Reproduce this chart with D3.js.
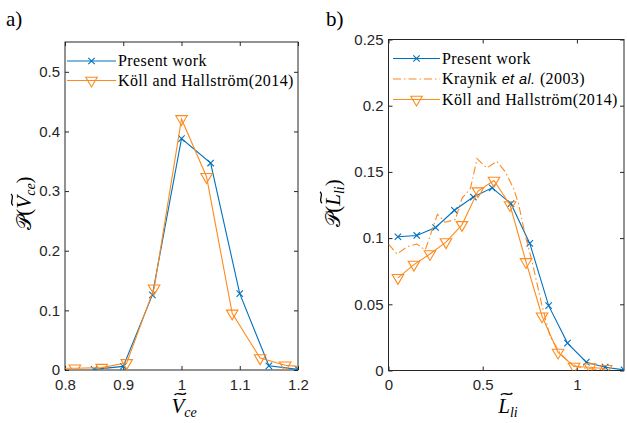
<!DOCTYPE html>
<html><head><meta charset="utf-8">
<script src="https://cdn.jsdelivr.net/npm/d3@7"></script>
<style>body{margin:0;background:#fff}</style>
</head><body>
<svg id="c" width="627" height="423"></svg>
<script>
// ---- data (panel a) ----
const vceX = [0.85, 0.9, 0.95, 1.0, 1.05, 1.1, 1.15, 1.2];
const vcePresent = [0.001, 0.006, 0.126, 0.388, 0.347, 0.128, 0.007, 0.001];
const vceKollX = [0.775, 0.817, 0.863, 0.906, 0.953, 1.0, 1.043, 1.087, 1.135, 1.178, 1.225];
const vceKoll = [0.003, 0.003, 0.004, 0.012, 0.137, 0.421, 0.324, 0.095, 0.020, 0.008, 0.004];
const aXTicks = [0.8, 0.9, 1.0, 1.1, 1.2];
const aXTickLabels = ["0.8", "0.9", "1", "1.1", "1.2"];
const aYTicks = [0, 0.1, 0.2, 0.3, 0.4, 0.5];
const aYTickLabels = ["0", "0.1", "0.2", "0.3", "0.4", "0.5"];
// ---- data (panel b) ----
const liX = [0.05, 0.15, 0.25, 0.35, 0.45, 0.55, 0.65, 0.75, 0.85, 0.95, 1.05, 1.15, 1.25];
const liPresent = [0.101, 0.102, 0.108, 0.121, 0.131, 0.138, 0.126, 0.096, 0.049, 0.0207, 0.0063, 0.0025, 0.0005];
const liKollX = [0.05, 0.135, 0.22, 0.305, 0.39, 0.475, 0.56, 0.645, 0.73, 0.815, 0.9, 0.985, 1.07, 1.155];
const liKoll = [0.070, 0.080, 0.088, 0.097, 0.110, 0.1355, 0.1435, 0.125, 0.082, 0.041, 0.0136, 0.003, 0.0025, 0.0013];
const liKrX = [0, 0.045, 0.1, 0.15, 0.195, 0.26, 0.3, 0.355, 0.39, 0.435, 0.47, 0.522, 0.575, 0.62, 0.664, 0.69, 0.726, 0.76, 0.78, 0.814, 0.858, 0.911, 0.955, 1.0, 1.05, 1.1, 1.15];
const liKr = [0.0955, 0.088, 0.0935, 0.0955, 0.091, 0.118, 0.112, 0.114, 0.130, 0.1375, 0.160, 0.153, 0.158, 0.150, 0.1375, 0.126, 0.102, 0.0835, 0.071, 0.0495, 0.0256, 0.013, 0.0068, 0.003, 0.0015, 0.001, 0.0005];
const bXTicks = [0, 0.5, 1];
const bXTickLabels = ["0", "0.5", "1"];
const bYTicks = [0, 0.05, 0.1, 0.15, 0.2, 0.25];
const bYTickLabels = ["0", "0.05", "0.1", "0.15", "0.2", "0.25"];

const BLUE = "#0072BD", ORANGE = "#FF8A1C", AX = "#262626";
const SANS = "Liberation Sans, Arial, sans-serif";
const SERIF = "Liberation Serif, DejaVu Serif, serif";

const svg = d3.select("#c");

function triPath(cx, cy, w, h) {
  return `M${cx - w/2},${cy - h/3}L${cx + w/2},${cy - h/3}L${cx},${cy + 2*h/3}Z`;
}
function crossPath(cx, cy, s) {
  return `M${cx-s},${cy-s}L${cx+s},${cy+s}M${cx-s},${cy+s}L${cx+s},${cy-s}`;
}
function tildePath(cx, cy, w) {
  const x0 = cx - w/2;
  return `M${x0},${cy + 1}C${x0 + w*0.3},${cy - 3.2} ${x0 + w*0.7},${cy + 3.2} ${x0 + w},${cy - 1}`;
}

function mathLabel(parent, x, y, rot, pieces) {
  const g = parent.append("g").attr("transform", `translate(${x},${y}) rotate(${rot})`);
  let cx = 0;
  const items = [];
  pieces.forEach(p => {
    const t = g.append("text").attr("x", cx).attr("y", p.dy || 0)
      .attr("font-family", p.font || SERIF).attr("font-size", p.size)
      .attr("font-style", p.italic ? "italic" : "normal").attr("fill", "#000").text(p.t);
    const w = t.node().getComputedTextLength();
    items.push({t, x: cx, w, p});
    cx += w + (p.gap || 0);
  });
  const total = cx;
  items.forEach(it => {
    it.t.attr("x", it.x - total/2);
    if (it.p.tilde) {
      g.append("path").attr("d", tildePath(it.x - total/2 + it.w/2 + 2.5, -19, 11.5))
        .attr("fill", "none").attr("stroke", "#000").attr("stroke-width", 1.3);
    }
  });
}

function panel(o) {
  const x = d3.scaleLinear().domain(o.xd).range([o.l, o.r]);
  const y = d3.scaleLinear().domain(o.yd).range([o.b, o.t]);
  const g = svg.append("g");
  const cid = "clip" + o.id;
  svg.append("defs").append("clipPath").attr("id", cid)
    .append("rect").attr("x", o.l).attr("y", o.t).attr("width", o.r - o.l).attr("height", o.b - o.t);

  const ax = (gen, tr, labels, pad) => {
    const a = g.append("g").attr("transform", tr)
      .call(gen.tickSizeInner(-4).tickSizeOuter(0).tickPadding(pad)
        .tickFormat(labels ? ((d, i) => labels[i]) : () => ""));
    a.select(".domain").remove();
    a.selectAll("line").attr("stroke", AX);
    a.selectAll("text").attr("font-family", SANS).attr("font-size", 15).attr("fill", AX);
    return a;
  };
  ax(d3.axisBottom(x).tickValues(o.xt), `translate(0,${o.b})`, o.xtl, 9);
  ax(d3.axisTop(x).tickValues(o.xt), `translate(0,${o.t})`, null, 0);
  ax(d3.axisLeft(y).tickValues(o.yt), `translate(${o.l},0)`, o.ytl, 5);
  ax(d3.axisRight(y).tickValues(o.yt), `translate(${o.r},0)`, null, 0);
  g.append("rect").attr("x", o.l).attr("y", o.t).attr("width", o.r - o.l).attr("height", o.b - o.t)
    .attr("fill", "none").attr("stroke", AX).attr("stroke-width", 1);

  const data = g.append("g").attr("clip-path", `url(#${cid})`);
  o.series.forEach(s => {
    const pts = s.x.map((v, i) => [x(v), y(s.y[i])]);
    data.append("path").attr("d", d3.line()(pts)).attr("fill", "none")
      .attr("stroke", s.color).attr("stroke-width", 1.1)
      .attr("stroke-dasharray", s.dash || null);
    if (s.marker === "x") {
      pts.forEach(p => data.append("path").attr("d", crossPath(p[0], p[1], 3.2))
        .attr("stroke", s.color).attr("stroke-width", 1.1).attr("fill", "none"));
    } else if (s.marker === "v") {
      pts.forEach(p => data.append("path").attr("d", triPath(p[0], p[1], 11.5, 9.8))
        .attr("stroke", s.color).attr("stroke-width", 1.1).attr("fill", "none"));
    }
  });

  o.legend.forEach((e, i) => {
    const ly = o.legY[i];
    const s = e.s;
    g.append("line").attr("x1", o.legX[0]).attr("x2", o.legX[1]).attr("y1", ly).attr("y2", ly)
      .attr("stroke", s.color).attr("stroke-width", 1.1).attr("stroke-dasharray", s.dash || null);
    const mx = (o.legX[0] + o.legX[1]) / 2;
    if (s.marker === "x") g.append("path").attr("d", crossPath(mx, ly, 3.2)).attr("stroke", s.color).attr("stroke-width", 1.1);
    if (s.marker === "v") g.append("path").attr("d", triPath(mx, ly, 11.5, 9.8)).attr("stroke", s.color).attr("stroke-width", 1.1).attr("fill", "none");
    const t = g.append("text").attr("x", o.legX[1] + 2).attr("y", ly + 5)
      .attr("font-family", SERIF).attr("font-size", 16).attr("letter-spacing", 0.4).attr("fill", "#000");
    e.parts.forEach(p => t.append("tspan").text(p.t)
      .attr("font-style", p.it ? "italic" : null).attr("font-family", p.sans ? SANS : null)
      .attr("font-size", p.sans ? 14.5 : null));
  });
}

const sA1 = {x: vceX, y: vcePresent, color: BLUE, marker: "x"};
const sA2 = {x: vceKollX, y: vceKoll, color: ORANGE, marker: "v"};
panel({id: "a", xd: [0.8, 1.2], yd: [0, 0.55], l: 65, r: 298, t: 42, b: 370,
  xt: aXTicks, xtl: aXTickLabels, yt: aYTicks, ytl: aYTickLabels,
  series: [sA1, sA2],
  legX: [67, 116], legY: [61, 80.5],
  legend: [{s: sA1, parts: [{t: "Present work"}]}, {s: sA2, parts: [{t: "Köll and Hallström(2014)"}]}]});

const sB1 = {x: liX, y: liPresent, color: BLUE, marker: "x"};
const sB2 = {x: liKrX, y: liKr, color: ORANGE, dash: "8,3,1.5,3"};
const sB3 = {x: liKollX, y: liKoll, color: ORANGE, marker: "v"};
panel({id: "b", xd: [0, 1.25], yd: [0, 0.25], l: 388.5, r: 624, t: 39.5, b: 370.5,
  xt: bXTicks, xtl: bXTickLabels, yt: bYTicks, ytl: bYTickLabels,
  series: [sB1, sB2, sB3],
  legX: [393, 440], legY: [58.5, 79, 99.5],
  legend: [{s: sB1, parts: [{t: "Present work"}]},
           {s: sB2, parts: [{t: "Kraynik "}, {t: "et al.", it: true, sans: true}, {t: " (2003)"}]},
           {s: sB3, parts: [{t: "Köll and Hallström(2014)"}]}]});

svg.append("text").attr("x", 6).attr("y", 26).attr("font-family", SERIF).attr("font-size", 21).text("a)");
svg.append("text").attr("x", 326).attr("y", 26).attr("font-family", SERIF).attr("font-size", 21).text("b)");

const PF = "DejaVu Sans, Noto Sans, serif";
mathLabel(svg, 184, 413, 0, [{t: "V", size: 21, italic: true, tilde: true}, {t: "ce", size: 14, italic: true, dy: 4}]);
mathLabel(svg, 508, 413, 0, [{t: "L", size: 21, italic: true, tilde: true}, {t: "li", size: 14, italic: true, dy: 4}]);
mathLabel(svg, 31, 203, -90, [{t: "𝒫", size: 20, font: PF}, {t: "(", size: 21}, {t: "V", size: 21, italic: true, tilde: true}, {t: "ce", size: 14, italic: true, dy: 4}, {t: ")", size: 21}]);
mathLabel(svg, 340, 203, -90, [{t: "𝒫", size: 20, font: PF}, {t: "(", size: 21}, {t: "L", size: 21, italic: true, tilde: true}, {t: "li", size: 14, italic: true, dy: 4}, {t: ")", size: 21}]);
</script>
</body></html>
